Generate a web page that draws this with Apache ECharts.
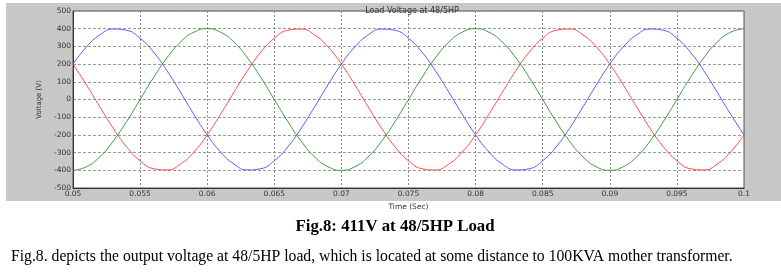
<!DOCTYPE html>
<html>
<head>
<meta charset="utf-8">
<script src="https://cdn.jsdelivr.net/npm/echarts@6/dist/echarts.min.js"></script>
<style>html,body{margin:0;padding:0;background:#fff}#c{width:781px;height:273px}</style>
</head>
<body>
<div id="c"></div>
<script>
var times = [0.05,0.051,0.052,0.053,0.054,0.055,0.056,0.057,0.058,0.059,
  0.06,0.061,0.062,0.063,0.064,0.065,0.066,0.067,0.068,0.069,
  0.07,0.071,0.072,0.073,0.074,0.075,0.076,0.077,0.078,0.079,
  0.08,0.081,0.082,0.083,0.084,0.085,0.086,0.087,0.088,0.089,
  0.09,0.091,0.092,0.093,0.094,0.095,0.096,0.097,0.098,0.099,0.1];
var blueV = [200,297,365,398,391,346,268,163,42,-83,-200,-297,-365,-398,-391,-346,-268,-163,-42,83,
  200,297,365,398,391,346,268,163,42,-83,-200,-297,-365,-398,-391,-346,-268,-163,-42,83,
  200,297,365,398,391,346,268,163,42,-83,-200];
var redV = [200,83,-42,-163,-268,-346,-391,-398,-365,-297,-200,-83,42,163,268,346,391,398,365,297,
  200,83,-42,-163,-268,-346,-391,-398,-365,-297,-200,-83,42,163,268,346,391,398,365,297,
  200,83,-42,-163,-268,-346,-391,-398,-365,-297,-200];
var greenV = [-400,-380,-324,-235,-124,0,124,235,324,380,400,380,324,235,124,0,-124,-235,-324,-380,
  -400,-380,-324,-235,-124,0,124,235,324,380,400,380,324,235,124,0,-124,-235,-324,-380,
  -400,-380,-324,-235,-124,0,124,235,324,380,400];
var chartTitle = 'Load Voltage at 48/5HP';
var xName = 'Time (Sec)';
var yName = 'Voltage (V)';
var caption = 'Fig.8: 411V at 48/5HP Load';
var paragraph = 'Fig.8. depicts the output voltage at 48/5HP load, which is located at some distance to 100KVA mother transformer.';

function pairs(v){ return times.map(function(t,i){ return [t, v[i]]; }); }

var chart = echarts.init(document.getElementById('c'), null, {renderer:'canvas'});
var tickFont = {fontSize:7.5, color:'#333', fontFamily:'DejaVu Sans'};
chart.setOption({
  animation:false,
  backgroundColor:'#fff',
  graphic:[{type:'rect', z:-10, shape:{x:6,y:3,width:775,height:198}, style:{fill:'#c8c8c8'}}],
  title:[
    {text:chartTitle, left:407, top:2, textAlign:'center', textStyle:{fontSize:8, fontWeight:'normal', color:'#333', fontFamily:'DejaVu Sans'}},
    {text:caption, left:390, top:213, textAlign:'center', textStyle:{fontSize:16.8, fontWeight:'bold', color:'#000', fontFamily:'Liberation Serif'}},
    {text:paragraph, left:6, top:244, textStyle:{fontSize:15.7, fontWeight:'normal', color:'#000', fontFamily:'Liberation Serif'}}
  ],
  grid:{left:73, right:37, top:11, bottom:85, show:true, backgroundColor:'#fff', borderColor:'#555', borderWidth:1},
  xAxis:{type:'value', min:0.05, max:0.1, interval:0.005,
    name:xName, nameLocation:'middle', nameGap:9, nameTextStyle:{fontSize:7.5, color:'#333', fontFamily:'DejaVu Sans'},
    axisLine:{onZero:false, lineStyle:{color:'#333'}}, axisTick:{show:false},
    axisLabel:Object.assign({margin:2, formatter:function(v){ return String(+v.toFixed(3)); }}, tickFont),
    splitLine:{show:true, lineStyle:{color:'#888', type:[2,2], width:1}}},
  yAxis:{type:'value', min:-500, max:500, interval:100,
    name:yName, nameLocation:'middle', nameGap:20, nameRotate:90, nameTextStyle:{fontSize:7, color:'#333', fontFamily:'DejaVu Sans'},
    axisLine:{show:true, lineStyle:{color:'#333'}}, axisTick:{show:false},
    axisLabel:Object.assign({margin:2}, tickFont),
    splitLine:{show:true, lineStyle:{color:'#999', type:[3,2], width:1}}},
  series:[
    {type:'line', data:pairs(blueV), smooth:true, showSymbol:false, lineStyle:{color:'#5a5aff', width:1}},
    {type:'line', data:pairs(redV), smooth:true, showSymbol:false, lineStyle:{color:'#ff4d4d', width:1}},
    {type:'line', data:pairs(greenV), smooth:true, showSymbol:false, lineStyle:{color:'#3c9c3c', width:1}}
  ]
});
</script>
</body>
</html>
